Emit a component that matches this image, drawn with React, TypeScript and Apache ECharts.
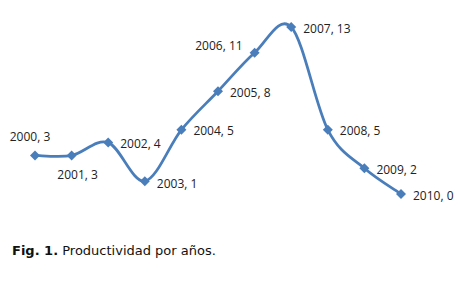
import React, { useEffect, useRef } from "react";
import * as echarts from "echarts";

const years = ["2000", "2001", "2002", "2003", "2004", "2005", "2006", "2007", "2008", "2009", "2010"];
const values = [3, 3, 4, 1, 5, 8, 11, 13, 5, 2, 0];
const labelPositions = ["top", "bottom", "right", "right", "right", "right", "left", "right", "right", "right", "right"];
const labelOffsets = [[-5, 0], [6, 0], [0, 1], [0, 2], [0, 1], [0, 1], [0, -7], [0, 1], [0, 1], [0, 1], [0, 1]];

const LINE_COLOR = "#4a7ebb";

export default function App() {
  const ref = useRef<HTMLDivElement>(null);
  useEffect(() => {
    if (!ref.current) return;
    const chart = echarts.init(ref.current, undefined, { renderer: "svg" });
    const data = values.map((v, i) => ({
      value: v,
      label: {
        position: labelPositions[i],
        offset: labelOffsets[i],
        distance: labelPositions[i] === "top" || labelPositions[i] === "bottom" ? 8 : 7,
      },
    }));
    const curveData = values.map((v, i) => [i, v]);
    chart.setOption({
      animation: false,
      backgroundColor: "#ffffff",
      grid: { left: 35, right: 62, top: 27, bottom: 89 },
      xAxis: {
        type: "category",
        data: years,
        boundaryGap: false,
        show: false,
      },
      yAxis: { type: "value", min: 0, max: 13, show: false },
      series: [
        {
          type: "custom",
          clip: false,
          silent: true,
          z: 1,
          data: curveData,
          renderItem: (params: any, api: any) => {
            const i = params.dataIndex;
            if (i >= values.length - 1) return null;
            const pt = (k: number) => {
              const kk = Math.max(0, Math.min(values.length - 1, k));
              return api.coord([kk, values[kk]]);
            };
            const p0 = pt(i - 1), p1 = pt(i), p2 = pt(i + 1), p3 = pt(i + 2);
            const t = 1 / 6;
            const c1 = [p1[0] + (p2[0] - p0[0]) * t, p1[1] + (p2[1] - p0[1]) * t];
            const c2 = [p2[0] - (p3[0] - p1[0]) * t, p2[1] - (p3[1] - p1[1]) * t];
            const d = `M${p1[0]},${p1[1]} C${c1[0]},${c1[1]} ${c2[0]},${c2[1]} ${p2[0]},${p2[1]}`;
            return {
              type: "path",
              shape: { pathData: d },
              style: { stroke: LINE_COLOR, lineWidth: 2.75, fill: "none", lineCap: "round" },
            };
          },
        },
        {
          type: "line",
          data,
          z: 3,
          symbol: "diamond",
          symbolSize: 10,
          lineStyle: { opacity: 0 },
          itemStyle: { color: LINE_COLOR },
          label: {
            show: true,
            formatter: (p: any) => `${p.name}, ${p.value}`,
            fontFamily: "Open Sans",
            fontSize: 12,
            color: "#222",
          },
        },
      ],
      graphic: [
        {
          type: "text",
          left: 12,
          top: 244,
          style: {
            text: "{b|Fig. 1.} Productividad por años.",
            fontFamily: "DejaVu Sans",
            fontSize: 13,
            fill: "#111",
            rich: {
              b: { fontFamily: "DejaVu Sans", fontSize: 13, fontWeight: "bold", fill: "#111" },
            },
          },
        },
      ],
    });
    return () => chart.dispose();
  }, []);
  return <div ref={ref} style={{ position: "fixed", left: 0, top: 0, width: 463, height: 283 }} />;
}
